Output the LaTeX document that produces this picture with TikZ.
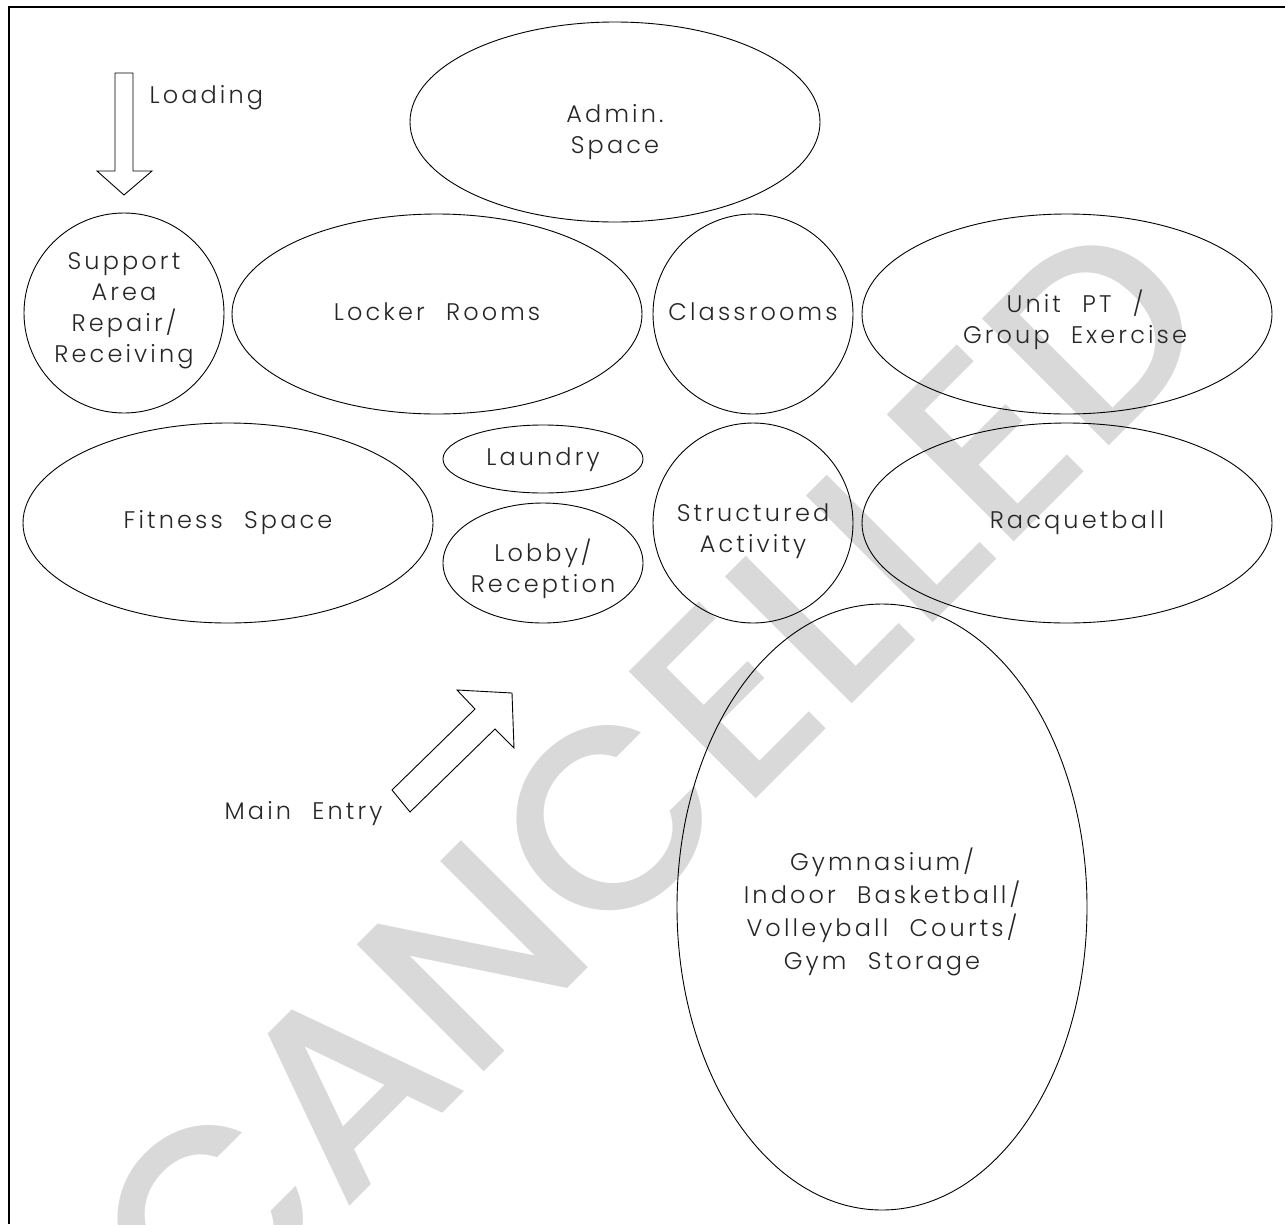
\documentclass[tikz,border=0pt]{standalone}
\usepackage{fontspec}
\setmainfont{Poppins}[UprightFont=* Light, LetterSpace=13, WordSpace=2.2]
\newfontfamily\stampfont{Poppins}[UprightFont=* Medium]
\usetikzlibrary{shapes.geometric}
\definecolor{stampgray}{HTML}{D9D9D9}

\begin{document}
\begin{tikzpicture}[
            x=1pt, y=-1pt,
            room/.style={
                ellipse,
                draw=black,
                line width=0.9pt,
                inner sep=0pt
            },
            roomtext/.style={
                align=center,
                text=black!85,
                font=\fontsize{24}{31}\selectfont
            },
            hollow/.style={draw=black, line width=0.9pt, line join=miter},
            stamp/.style={text=stampgray, font=\stampfont\fontsize{258}{258}\selectfont}
        ]
        \useasboundingbox (0,0) rectangle (1285,1224);

        % Watermark
        \node[stamp, rotate=45] (cancel) at (650,778) {CANCELLED};

        % Frame
        \draw[line width=2.5pt] (1285,7) -- (9,7) -- (9,1224);

        % Rooms
        \node[room, minimum width=410pt, minimum height=200pt, label={[roomtext, yshift=-10pt]center:{Admin.\\Space}}] (admin) at (615,122) {};
        \node[room, minimum width=200pt, minimum height=200pt, label={[roomtext, yshift=2pt]center:{Support\\Area\\Repair/\\Receiving}}] (support) at (124,313) {};
        \node[room, minimum width=410pt, minimum height=200pt, label={[roomtext, yshift=2pt]center:{Locker Rooms}}] (locker) at (437,314) {};
        \node[room, minimum width=200pt, minimum height=200pt, label={[roomtext, yshift=2pt]center:{Classrooms}}] (class) at (753,314) {};
        \node[room, minimum width=410pt, minimum height=200pt, label={[roomtext, xshift=8pt, yshift=-6pt]center:{Unit PT /\\Group Exercise}}] (unitpt) at (1067,314) {};
        \node[room, minimum width=410pt, minimum height=200pt, label={[roomtext]center:{Fitness Space}}] (fitness) at (228,523) {};
        \node[room, minimum width=200pt, minimum height=68pt, label={[roomtext, yshift=-1pt]center:{Laundry}}] (laundry) at (543,459) {};
        \node[room, minimum width=200pt, minimum height=120pt, label={[roomtext, yshift=-6pt]center:{Lobby/\\Reception}}] (lobby) at (543,563) {};
        \node[room, minimum width=200pt, minimum height=200pt, label={[roomtext, yshift=-8pt]center:{Structured\\Activity}}] (activity) at (753,523) {};
        \node[room, minimum width=410pt, minimum height=200pt, label={[roomtext, xshift=10pt]center:{Racquetball}}] (racquet) at (1067,523) {};
        \node[room, minimum width=410pt, minimum height=606pt, label={[roomtext, yshift=-5pt, font=\fontsize{24}{33}\selectfont]center:{Gymnasium/\\Indoor Basketball/\\Volleyball Courts/\\Gym Storage}}] (gym) at (882,907) {};

        % Arrows
        \draw[hollow] (115,73) -- (133,73) -- (133,171) -- (152,171) -- (124,195) -- (97,171) -- (115,171) -- cycle;
        \draw[hollow] (392,790) -- (475,709) -- (457,690) -- (512,693) -- (514,748) -- (495,729) -- (410,812) -- cycle;

        % Labels
        \node[roomtext, anchor=west] (loading) at (146,98) {Loading};
        \node[roomtext, anchor=east] (entry) at (386,814) {Main Entry};

        \end{tikzpicture}
\end{document}
